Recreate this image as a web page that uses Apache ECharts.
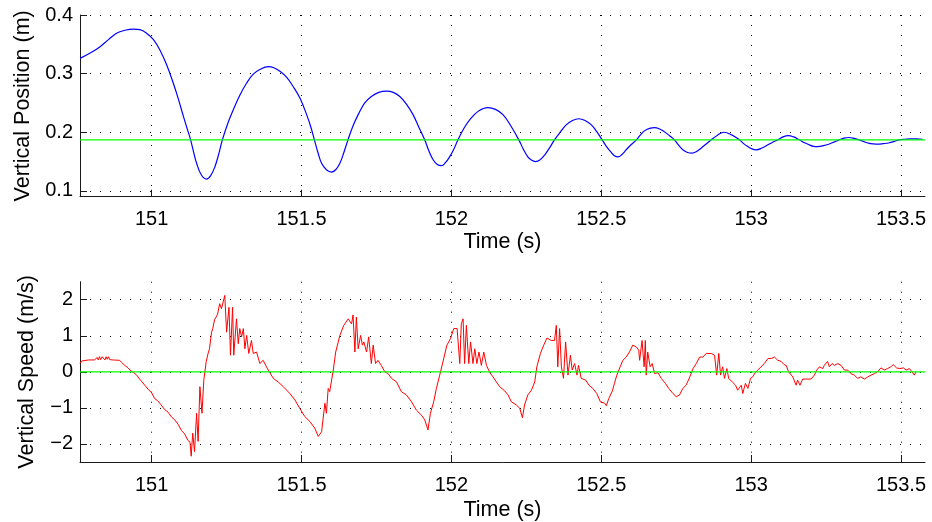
<!DOCTYPE html>
<html>
<head>
<meta charset="utf-8">
<script src="https://cdn.jsdelivr.net/npm/echarts@6/dist/echarts.min.js"></script>
<style>
  html, body { margin: 0; padding: 0; background: #fff; }
  #chart { width: 932px; height: 522px; }
</style>
</head>
<body>
<div id="chart"></div>
<script>
// Time window shown on both panels (s)
const timeRange = [150.761, 153.58];
const timeTicks = [151, 151.5, 152, 152.5, 153, 153.5];

// Upper panel: vertical position (m)
const positionRange = [0.09, 0.4];
const positionTicks = [0.1, 0.2, 0.3, 0.4];
const positionTime = [
  150.761, 150.795, 150.828, 150.856, 150.883, 150.911, 150.939, 150.961, 150.983, 151.006,
  151.028, 151.05, 151.072, 151.089, 151.106, 151.118, 151.13, 151.14, 151.15, 151.166,
  151.183, 151.197, 151.211, 151.224, 151.236, 151.254, 151.272, 151.295, 151.317, 151.339,
  151.361, 151.389, 151.408, 151.428, 151.45, 151.472, 151.495, 151.517, 151.531, 151.543,
  151.555, 151.567, 151.583, 151.6, 151.614, 151.628, 151.641, 151.655, 151.672, 151.689,
  151.711, 151.733, 151.758, 151.783, 151.806, 151.828, 151.85, 151.872, 151.891, 151.911,
  151.925, 151.939, 151.953, 151.967, 151.98, 151.994, 152.008, 152.022, 152.041, 152.061,
  152.09, 152.122, 152.147, 152.172, 152.198, 152.225, 152.24, 152.255, 152.268, 152.281,
  152.296, 152.311, 152.327, 152.344, 152.363, 152.383, 152.404, 152.425, 152.446, 152.467,
  152.485, 152.503, 152.517, 152.531, 152.544, 152.556, 152.569, 152.583, 152.6, 152.617,
  152.63, 152.644, 152.661, 152.678, 152.695, 152.711, 152.728, 152.744, 152.758, 152.772,
  152.788, 152.803, 152.818, 152.833, 152.85, 152.867, 152.888, 152.909, 152.935, 152.961,
  152.975, 152.989, 153.003, 153.017, 153.036, 153.056, 153.072, 153.089, 153.106, 153.124,
  153.142, 153.161, 153.178, 153.194, 153.208, 153.222, 153.241, 153.261, 153.278, 153.294,
  153.31, 153.326, 153.344, 153.361, 153.378, 153.394, 153.408, 153.422, 153.441, 153.461,
  153.478, 153.494, 153.513, 153.533, 153.552, 153.572
];
const positionValue = [
  0.326, 0.335, 0.346, 0.358, 0.369, 0.374, 0.376, 0.375, 0.369, 0.358,
  0.340, 0.315, 0.284, 0.257, 0.227, 0.207, 0.187, 0.166, 0.147, 0.127,
  0.120, 0.126, 0.141, 0.163, 0.187, 0.215, 0.238, 0.264, 0.284, 0.299,
  0.307, 0.312, 0.310, 0.304, 0.294, 0.278, 0.258, 0.230, 0.209, 0.187,
  0.165, 0.147, 0.136, 0.132, 0.136, 0.147, 0.165, 0.187, 0.211, 0.230,
  0.250, 0.261, 0.268, 0.270, 0.268, 0.261, 0.248, 0.230, 0.209, 0.187,
  0.168, 0.153, 0.145, 0.143, 0.148, 0.158, 0.171, 0.187, 0.206, 0.221,
  0.236, 0.242, 0.239, 0.230, 0.211, 0.187, 0.171, 0.158, 0.152, 0.150,
  0.153, 0.161, 0.173, 0.187, 0.200, 0.2125, 0.220, 0.223, 0.220, 0.2125,
  0.201, 0.187, 0.176, 0.167, 0.160, 0.158, 0.162, 0.170, 0.179, 0.187,
  0.195, 0.2023, 0.2065, 0.208, 0.2055, 0.2006, 0.194, 0.187, 0.178, 0.170,
  0.1655, 0.1643, 0.167, 0.1728, 0.180, 0.187, 0.195, 0.200, 0.1955, 0.187,
  0.1805, 0.1755, 0.1715, 0.170, 0.173, 0.1785, 0.183, 0.187, 0.192, 0.1943,
  0.192, 0.187, 0.182, 0.1785, 0.176, 0.1755, 0.177, 0.180, 0.1835, 0.187,
  0.190, 0.191, 0.1895, 0.187, 0.1835, 0.181, 0.180, 0.1796, 0.1805, 0.182,
  0.1845, 0.187, 0.188, 0.1886, 0.1885, 0.188
];
const positionSetpoint = 0.187;

// Lower panel: vertical speed (m/s)
const speedRange = [-2.5, 2.5];
const speedTicks = [-2, -1, 0, 1, 2];
const speedTime = [
  150.761, 150.766, 150.771, 150.79, 150.81, 150.818, 150.822, 150.826, 150.83, 150.835,
  150.84, 150.844, 150.848, 150.852, 150.856, 150.86, 150.87, 150.893, 150.9, 150.905,
  150.91, 150.92, 150.932, 150.94, 150.949, 150.96, 150.968, 150.977, 150.99, 151.0,
  151.01, 151.02, 151.03, 151.043, 151.055, 151.066, 151.077, 151.088, 151.099, 151.11,
  151.121, 151.128, 151.132, 151.137, 151.143, 151.15, 151.155, 151.161, 151.168, 151.174,
  151.182, 151.188, 151.193, 151.2, 151.204, 151.21, 151.215, 151.22, 151.227, 151.233,
  151.238, 151.244, 151.25, 151.258, 151.263, 151.27, 151.274, 151.283, 151.289, 151.294,
  151.3, 151.306, 151.311, 151.317, 151.324, 151.333, 151.339, 151.35, 151.361, 151.372,
  151.383, 151.394, 151.406, 151.422, 151.439, 151.461, 151.478, 151.494, 151.511, 151.528,
  151.544, 151.556, 151.567, 151.578, 151.583, 151.589, 151.594, 151.606, 151.614, 151.628,
  151.641, 151.656, 151.667, 151.672, 151.678, 151.683, 151.689, 151.697, 151.703, 151.708,
  151.717, 151.724, 151.733, 151.739, 151.747, 151.755, 151.766, 151.778, 151.789, 151.8,
  151.817, 151.833, 151.85, 151.867, 151.883, 151.9, 151.911, 151.922, 151.93, 151.941,
  151.95, 151.961, 151.972, 151.985, 151.997, 152.008, 152.019, 152.028, 152.033, 152.039,
  152.044, 152.05, 152.058, 152.064, 152.072, 152.078, 152.085, 152.092, 152.1, 152.108,
  152.117, 152.128, 152.139, 152.15, 152.161, 152.178, 152.189, 152.2, 152.217, 152.228,
  152.237, 152.244, 152.255, 152.267, 152.278, 152.285, 152.297, 152.308, 152.319, 152.333,
  152.344, 152.35, 152.355, 152.361, 152.367, 152.374, 152.381, 152.389, 152.397, 152.403,
  152.411, 152.419, 152.424, 152.433, 152.448, 152.459, 152.472, 152.485, 152.497, 152.511,
  152.517, 152.525, 152.537, 152.544, 152.552, 152.563, 152.572, 152.583, 152.594, 152.605,
  152.617, 152.625, 152.628, 152.636, 152.643, 152.647, 152.65, 152.655, 152.663, 152.67,
  152.678, 152.689, 152.7, 152.714, 152.725, 152.739, 152.75, 152.761, 152.772, 152.783,
  152.794, 152.806, 152.817, 152.828, 152.839, 152.85, 152.867, 152.878, 152.885, 152.892,
  152.898, 152.905, 152.911, 152.919, 152.925, 152.937, 152.948, 152.955, 152.967, 152.972,
  152.981, 152.989, 152.998, 153.005, 153.014, 153.022, 153.033, 153.044, 153.056, 153.067,
  153.078, 153.089, 153.1, 153.11, 153.117, 153.125, 153.139, 153.15, 153.155, 153.163,
  153.172, 153.183, 153.2, 153.211, 153.219, 153.228, 153.239, 153.244, 153.255, 153.261,
  153.27, 153.278, 153.289, 153.3, 153.311, 153.322, 153.333, 153.344, 153.355, 153.366,
  153.378, 153.389, 153.4, 153.411, 153.422, 153.433, 153.444, 153.455, 153.466, 153.474,
  153.485, 153.496, 153.508, 153.517, 153.528, 153.537, 153.544, 153.55
];
const speedValue = [
  0.23, 0.30, 0.33, 0.33, 0.33, 0.40, 0.33, 0.42, 0.34, 0.42,
  0.42, 0.33, 0.42, 0.35, 0.42, 0.34, 0.33, 0.32, 0.26, 0.22,
  0.18, 0.12, 0.02, -0.02, -0.08, -0.20, -0.28, -0.37, -0.50, -0.58,
  -0.74, -0.80, -0.90, -1.04, -1.12, -1.25, -1.33, -1.45, -1.62, -1.72,
  -1.90, -1.95, -2.34, -1.70, -2.21, -1.15, -1.93, -0.41, -1.15, -0.23,
  0.28, 0.50, 0.64, 1.10, 1.20, 1.45, 1.52, 1.60, 1.89, 1.75,
  1.80, 2.12, 1.10, 1.79, 0.46, 1.79, 0.46, 1.47, 0.78, 1.20,
  0.97, 1.20, 0.64, 1.01, 0.51, 0.87, 0.51, 0.55, 0.23, 0.32,
  0.14, -0.02, -0.18, -0.28, -0.41, -0.60, -0.78, -1.01, -1.24, -1.38,
  -1.56, -1.79, -1.66, -0.87, -1.15, -0.46, -0.55, 0.05, 0.55, 1.01,
  1.29, 1.47, 1.33, 1.58, 0.55, 1.52, 0.64, 1.01, 0.74, 0.83,
  0.55, 0.97, 0.23, 0.74, 0.23, 0.32, 0.18, 0.00, -0.05, -0.18,
  -0.28, -0.55, -0.64, -0.83, -1.06, -1.20, -1.33, -1.61, -1.15, -0.83,
  -0.46, -0.09, 0.28, 0.74, 0.92, 1.20, 1.20, 0.23, 1.33, 1.47,
  0.23, 1.29, 0.23, 0.83, 0.23, 0.64, 0.23, 0.55, 0.18, 0.55,
  0.18, -0.02, -0.14, -0.28, -0.41, -0.53, -0.64, -0.83, -0.92, -1.01,
  -1.27, -0.92, -0.64, -0.51, -0.28, 0.14, 0.51, 0.74, 0.94, 0.87,
  0.87, 1.29, 0.14, 1.20, 0.14, -0.18, 0.83, -0.09, 0.46, 0.05,
  0.23, -0.09, 0.18, -0.18, -0.23, -0.37, -0.46, -0.60, -0.83, -0.87,
  -0.94, -0.74, -0.53, -0.32, -0.09, 0.14, 0.32, 0.41, 0.55, 0.74,
  0.69, 0.60, 0.32, 0.87, 0.14, 0.87, -0.09, 0.55, 0.14, 0.23,
  -0.05, -0.02, -0.18, -0.32, -0.46, -0.60, -0.69, -0.64, -0.46, -0.37,
  -0.17, 0.09, 0.23, 0.41, 0.41, 0.51, 0.51, 0.46, -0.09, 0.51,
  -0.09, 0.14, -0.18, 0.09, -0.18, -0.28, -0.37, -0.51, -0.37, -0.60,
  -0.32, -0.46, -0.18, -0.14, -0.02, 0.05, 0.14, 0.23, 0.37, 0.37,
  0.41, 0.32, 0.29, 0.20, 0.18, 0.00, -0.14, -0.37, -0.23, -0.37,
  -0.20, -0.20, -0.20, -0.09, 0.05, 0.14, 0.09, 0.18, 0.29, 0.14,
  0.23, 0.18, 0.23, 0.18, 0.05, 0.05, -0.05, -0.09, -0.18, -0.14,
  -0.20, -0.14, -0.09, -0.05, 0.00, 0.11, 0.05, 0.09, 0.14, 0.20,
  0.11, 0.09, 0.11, 0.05, 0.09, 0.00, -0.09, 0.00
];
const speedSetpoint = 0;

const FONT = '"Liberation Sans", Arial, Helvetica, sans-serif';
const AXIS_COLOR = '#1a1a1a';
const TICK_FONT_SIZE = 20;
const NAME_FONT_SIZE = 21.5;

function zip(xs, ys) { return xs.map((x, i) => [x, ys[i]]); }
function minusFmt(v) { return v < 0 ? '\u2212' + Math.abs(v) : String(v); }

function xAxisFor(gridIndex, nameGap) {
  return {
    type: 'value', gridIndex,
    min: timeRange[0], max: timeRange[1],
    name: 'Time (s)', nameLocation: 'middle', nameGap,
    nameTextStyle: { fontFamily: FONT, fontSize: NAME_FONT_SIZE, color: '#000' },
    axisLine: { show: true, onZero: false, lineStyle: { color: AXIS_COLOR, width: 1 } },
    axisTick: { show: true, inside: true, length: 7, customValues: timeTicks,
                lineStyle: { color: AXIS_COLOR, width: 1 } },
    axisLabel: { customValues: timeTicks, formatter: v => String(v), margin: 13,
                 fontFamily: FONT, fontSize: TICK_FONT_SIZE, color: '#000' },
    splitLine: { show: true, lineStyle: { type: [1, 9], color: '#000', width: 1 } }
  };
}

function yAxisFor(gridIndex, range, ticks, name, gap) {
  return {
    type: 'value', gridIndex,
    min: range[0], max: range[1],
    name, nameLocation: 'middle', nameGap: gap,
    nameTextStyle: { fontFamily: FONT, fontSize: NAME_FONT_SIZE, color: '#000' },
    axisLine: { show: true, onZero: false, lineStyle: { color: AXIS_COLOR, width: 1 } },
    axisTick: { show: true, inside: true, length: 7, customValues: ticks,
                lineStyle: { color: AXIS_COLOR, width: 1 } },
    axisLabel: { customValues: ticks, formatter: minusFmt, margin: 7,
                 fontFamily: FONT, fontSize: TICK_FONT_SIZE, color: '#000' },
    splitLine: { show: true, lineStyle: { type: [1, 9], color: '#000', width: 1 } }
  };
}

const chart = echarts.init(document.getElementById('chart'), null, { renderer: 'canvas' });
chart.setOption({
  animation: false,
  backgroundColor: '#fff',
  grid: [
    { left: 80, right: 7, top: 15, height: 181.7 },
    { left: 80, right: 7, top: 281.7, height: 180.6 }
  ],
  xAxis: [xAxisFor(0, 33), xAxisFor(1, 37)],
  yAxis: [
    yAxisFor(0, positionRange, positionTicks, 'Vertical Position (m)', 46),
    yAxisFor(1, speedRange, speedTicks, 'Vertical Speed (m/s)', 42)
  ],
  series: [
    {
      type: 'line', xAxisIndex: 0, yAxisIndex: 0, silent: true,
      data: zip(positionTime, positionValue), smooth: 0.4,
      symbol: 'none', lineStyle: { color: '#0000ff', width: 1.2 }
    },
    {
      type: 'line', xAxisIndex: 0, yAxisIndex: 0, silent: true,
      data: [[timeRange[0], positionSetpoint], [timeRange[1], positionSetpoint]],
      symbol: 'none', lineStyle: { color: '#00ff00', width: 1.2 }
    },
    {
      type: 'line', xAxisIndex: 1, yAxisIndex: 1, silent: true,
      data: zip(speedTime, speedValue), symbol: 'none',
      lineStyle: { color: '#ff0000', width: 1 }
    },
    {
      type: 'line', xAxisIndex: 1, yAxisIndex: 1, silent: true,
      data: [[timeRange[0], speedSetpoint], [timeRange[1], speedSetpoint]],
      symbol: 'none', lineStyle: { color: '#00ff00', width: 1.2 }
    }
  ]
});
</script>
</body>
</html>
